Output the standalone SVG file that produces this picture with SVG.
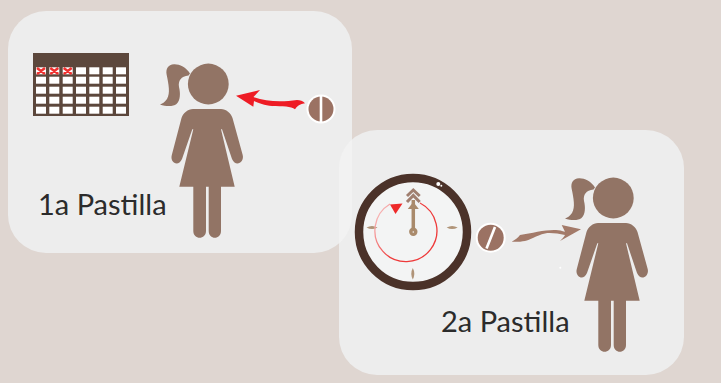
<svg xmlns="http://www.w3.org/2000/svg" xmlns:xlink="http://www.w3.org/1999/xlink" width="721" height="383" viewBox="0 0 721 383">
<style>
.panel{fill:#ededed}
.lbl{font-family:"Lato","Liberation Sans",sans-serif;font-size:29px;fill:#2b2b2b}
.girl{fill:#927465}
.cell{fill:#fff}
.x{stroke:#f0312f;stroke-width:2.600;fill:none}
.tick{fill:#b09478}
</style>
<defs>
<clipPath id="c1"><rect x="8" y="11" width="344" height="242" rx="38"/></clipPath>
<linearGradient id="fade" x1="0" y1="0" x2="1" y2="0.6"><stop offset="0" stop-color="#f9d5d5"/><stop offset="0.6" stop-color="#ee3a3a"/></linearGradient>
<g id="girl" class="girl">
<circle cx="208.3" cy="84" r="20.4"/>
<path d="M190 73.5C186 67 179 64 174 64.3C168 64.5 165.500 69 166.700 75C168.500 84 170.500 93 167 99C165 102 162 104 160 104.500C166 106.500 173 106.800 176.500 104C180.500 100.500 180.500 93 179 87C178 81 181 76 188.500 75.500Z"/>
<path d="M193 109H221C226 109 231 113 232.500 118L242.700 155C244.500 162 236 168 232 159L222 129.300H221L234.700 186.700H221V231C221 240 208.700 240 208.700 231V186.700H206V231C206 240 193.300 240 193.300 231V186.700H179.300L193.300 129.300H192.300L182 159C178 168 169.700 162 171.800 155L181.500 118C183 113 188 109 193 109Z"/>
</g>
</defs>
<rect width="721" height="383" fill="#dfd6d1"/>
<g id="panel-1"><rect class="panel" x="8" y="11" width="344" height="242" rx="38"/></g>
<g id="panel-2"><rect class="panel" x="339" y="130" width="345" height="245" rx="38"/>
<rect x="339" y="130" width="345" height="245" rx="38" fill="#f2f2f2" clip-path="url(#c1)"/></g>
<g id="calendar">
<rect x="33" y="53" width="96" height="63" fill="#5c473c"/>
<g class="cell">
<rect x="36" y="67.300" width="10" height="7"/><rect x="49.300" y="67.300" width="10" height="7"/><rect x="62.700" y="67.300" width="10" height="7"/><rect x="76" y="67.300" width="10" height="7"/><rect x="89.300" y="67.300" width="10" height="7"/><rect x="102.700" y="67.300" width="10" height="7"/><rect x="116" y="67.300" width="10" height="7"/>
<rect x="36" y="76.700" width="10" height="7"/><rect x="49.300" y="76.700" width="10" height="7"/><rect x="62.700" y="76.700" width="10" height="7"/><rect x="76" y="76.700" width="10" height="7"/><rect x="89.300" y="76.700" width="10" height="7"/><rect x="102.700" y="76.700" width="10" height="7"/><rect x="116" y="76.700" width="10" height="7"/>
<rect x="36" y="86.700" width="10" height="7"/><rect x="49.300" y="86.700" width="10" height="7"/><rect x="62.700" y="86.700" width="10" height="7"/><rect x="76" y="86.700" width="10" height="7"/><rect x="89.300" y="86.700" width="10" height="7"/><rect x="102.700" y="86.700" width="10" height="7"/><rect x="116" y="86.700" width="10" height="7"/>
<rect x="36" y="96.700" width="10" height="7"/><rect x="49.300" y="96.700" width="10" height="7"/><rect x="62.700" y="96.700" width="10" height="7"/><rect x="76" y="96.700" width="10" height="7"/><rect x="89.300" y="96.700" width="10" height="7"/><rect x="102.700" y="96.700" width="10" height="7"/><rect x="116" y="96.700" width="10" height="7"/>
<rect x="36" y="106.700" width="10" height="7"/><rect x="49.300" y="106.700" width="10" height="7"/><rect x="62.700" y="106.700" width="10" height="7"/><rect x="76" y="106.700" width="10" height="7"/><rect x="89.300" y="106.700" width="10" height="7"/><rect x="102.700" y="106.700" width="10" height="7"/><rect x="116" y="106.700" width="10" height="7"/>
</g>
<path class="x" d="M37 68L45 74M45 68L37 74M50.300 68L58.300 74M58.300 68L50.300 74M63.700 68L71.700 74M71.700 68L63.700 74"/>
</g>
<g id="person-1"><use href="#girl" xlink:href="#girl"/></g>
<g id="pill-1">
<circle cx="321" cy="109" r="14.500" fill="#fff"/><circle cx="321" cy="109" r="12.500" fill="#9b7263"/>
<rect x="319.700" y="96" width="2.600" height="26" fill="#fff"/>
</g>
<g id="label-1"><text class="lbl" x="38" y="215">1a Pastilla</text></g>
<g id="clock">
<circle cx="413" cy="232" r="54" fill="#f3f4f4" stroke="#4b3229" stroke-width="8.500"/>
<circle cx="438.300" cy="184" r="2" fill="#fff"/><circle cx="441.300" cy="185.800" r="1" fill="#fff"/>
<path class="tick" d="M366.500 227.400Q372 224.400 377.500 227.400Q372 230.400 366.500 227.400Z"/>
<path class="tick" d="M446.700 227.400Q452 224.400 457.700 227.400Q452 230.400 446.700 227.400Z"/>
<path class="tick" d="M412.800 268Q415.800 273.500 412.800 279.500Q409.800 273.500 412.800 268Z"/>
<path d="M420 203A31 31 0 1 1 390 204" fill="none" stroke="url(#fade)" stroke-width="1.300"/>
<path d="M390 204.500L402.500 203.500L395.500 214Z" fill="#ee2a2a"/>
<path d="M413.300 200V231" stroke="#a98a6b" stroke-width="3.500" fill="none"/>
<path d="M413.300 202L407.800 209H418.800Z" fill="#a98a6b"/>
<path d="M407 202L413.300 195.500L419.700 202M407 196L413.300 190L419.700 196" stroke="#a07f70" stroke-width="3" fill="none"/>
<circle cx="413.300" cy="231.700" r="4.200" fill="#a98a6b"/><circle cx="413.300" cy="232" r="0.800" fill="#f3f4f4"/>
</g>
<g id="pill-2">
<circle cx="490.700" cy="237.700" r="15" fill="#fff"/><circle cx="490.700" cy="237.700" r="13" fill="#9b7263"/>
<path d="M486.500 248.500L495 227" stroke="#fff" stroke-width="2.600" fill="none"/>
</g>
<g id="person-2"><use href="#girl" xlink:href="#girl" x="405" y="114"/></g>
<g id="label-2"><text class="lbl" x="441" y="332">2a Pastilla</text></g>
<circle cx="560.300" cy="267.700" r="1" fill="#fff"/>
<g id="connectors">
<path d="M236 95.700L260 90L253.500 97C266 102 283 102 297 100C300 100 303 101 305 103.300C300 104 297 106 295 109.300C291 106 283 106.500 272 106C265 105.500 258 103 254 101L253.300 106.700Z" fill="#ee1c25"/>
<path d="M511.700 241.700C515 240 518 238 520 235C532 233 546 229.500 556 230C559 230 562 231 565 231.700L561.700 225L581 229.300L560 241C562 239 564 237 565 235C558 233.500 550 232.500 545 233.500C536 235.500 530 240 525 241C521 241.800 515 242 511.700 241.700Z" fill="#a37a69"/>
</g>
</svg>
